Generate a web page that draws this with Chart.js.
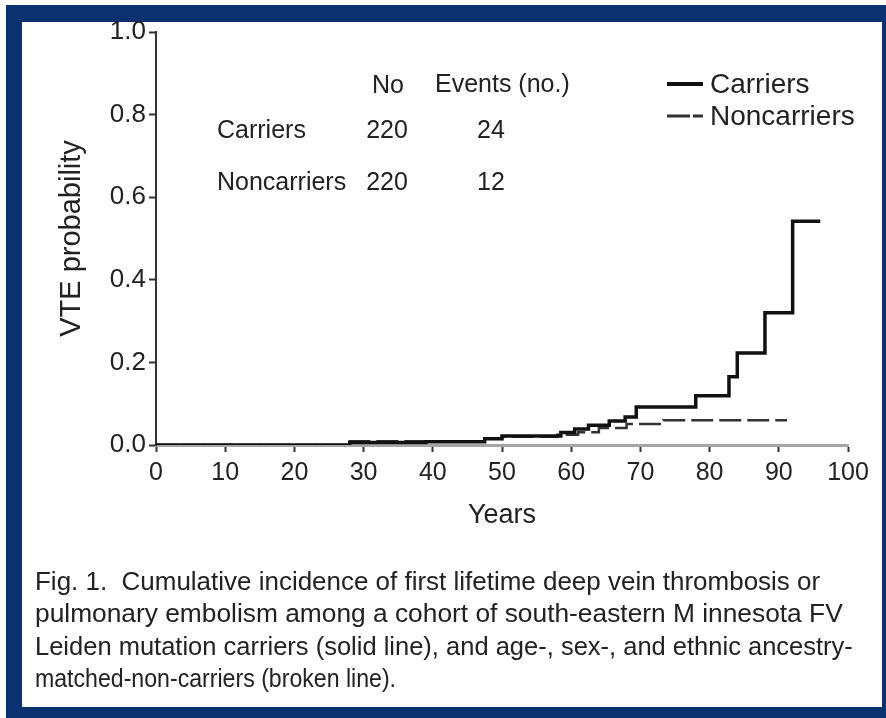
<!DOCTYPE html>
<html>
<head>
<meta charset="utf-8">
<script src="https://cdn.jsdelivr.net/npm/chart.js@4.4.1/dist/chart.umd.min.js"></script>
<style>
  html, body { margin: 0; padding: 0; background: #ffffff; width: 886px; height: 718px; overflow: hidden; }
  #frame { position: absolute; left: 6px; top: 5px; width: 880px; height: 713px; background: #0b3170; }
  #panel { position: absolute; left: 22px; top: 22px; width: 860px; height: 685px; background: #ffffff; }
  #chart { position: absolute; left: 0; top: 0; }
  .cap { position: absolute; left: 35px; font-family: "Liberation Sans", Arial, sans-serif; font-size: 26px;
         line-height: 32px; color: #222; white-space: nowrap; transform-origin: 0 0; }
</style>
</head>
<body>
<div id="frame"></div>
<div id="panel"></div>
<canvas id="chart" width="886" height="718"></canvas>
<div class="cap" id="cap0" style="top:565px">Fig. 1.&nbsp; Cumulative incidence of first lifetime deep vein thrombosis or</div>
<div class="cap" id="cap1" style="top:597px">pulmonary embolism among a cohort of south-eastern M innesota FV</div>
<div class="cap" id="cap2" style="top:630px">Leiden mutation carriers (solid line), and age-, sex-, and ethnic ancestry-</div>
<div class="cap" id="cap3" style="top:662px">matched-non-carriers (broken line).</div>
<script>
// Kaplan-Meier style cumulative incidence: each point is the age at which the curve steps to a new level
const carrierYears = [0, 28, 39, 47.5, 50, 58.5, 60.5, 62.5, 65.5, 67.8, 69.4, 78, 82.8, 84, 88, 92, 96];
const carrierProb  = [0, 0.006, 0.008, 0.015, 0.022, 0.03, 0.039, 0.048, 0.058, 0.068, 0.092, 0.119, 0.165, 0.223, 0.32, 0.542, 0.542];
const noncarrierYears = [0, 28, 47.5, 50, 58, 61, 64, 68, 73.3, 91.2];
const noncarrierProb  = [0, 0.009, 0.015, 0.02, 0.025, 0.031, 0.041, 0.051, 0.06, 0.06];

// Cohort summary table
const groupNames = ['Carriers', 'Noncarriers'];
const groupCounts = [220, 220];
const groupEvents = [24, 12];

const xTicks = [0, 10, 20, 30, 40, 50, 60, 70, 80, 90, 100];
const yTicks = [0, 0.2, 0.4, 0.6, 0.8, 1.0];

const FONT = '"Liberation Sans", Arial, sans-serif';
const TEXT = '#222222';

const toPoints = (xs, ys) => xs.map((x, i) => ({ x: x, y: ys[i] }));

const solidStyle = { color: '#111111', width: 3.5, dash: [] };
const dashStyle = { color: '#333333', width: 2.5, dash: [22, 6] };

// Table and legend drawn on top of the plot
const annotations = {
  id: 'annotations',
  afterDraw(chart) {
    const ctx = chart.ctx;
    ctx.save();
    ctx.fillStyle = TEXT;
    ctx.textBaseline = 'middle';
    ctx.font = '25px ' + FONT;
    ctx.textAlign = 'left';
    ctx.fillText('No', 372, 86);
    ctx.fillText('Events (no.)', 435, 85);
    const rowY = [131, 183];
    groupNames.forEach((name, i) => {
      ctx.textAlign = 'left';
      ctx.fillText(name, 217, rowY[i]);
      ctx.textAlign = 'center';
      ctx.fillText(String(groupCounts[i]), 387, rowY[i]);
      ctx.fillText(String(groupEvents[i]), 491, rowY[i]);
    });

    // legend
    const styles = [{ color: '#111111', width: 4, dash: [] }, { color: '#333333', width: 3, dash: [23, 3] }];
    const legY = [84, 116];
    chart.data.datasets.forEach((ds, i) => {
      const s = styles[i];
      ctx.beginPath();
      ctx.setLineDash(s.dash);
      ctx.lineWidth = s.width;
      ctx.strokeStyle = s.color;
      ctx.moveTo(667, legY[i]);
      ctx.lineTo(703, legY[i]);
      ctx.stroke();
      ctx.setLineDash([]);
      ctx.font = '28px ' + FONT;
      ctx.textAlign = 'left';
      ctx.fillStyle = TEXT;
      ctx.fillText(ds.label, 710, legY[i] + 1);
    });
    ctx.restore();
  }
};

new Chart(document.getElementById('chart'), {
  type: 'line',
  data: {
    datasets: [
      {
        label: 'Carriers',
        data: toPoints(carrierYears, carrierProb),
        stepped: 'before',
        borderColor: solidStyle.color,
        borderWidth: solidStyle.width,
        borderDash: solidStyle.dash,
        pointRadius: 0,
        fill: false,
        order: 0
      },
      {
        label: 'Noncarriers',
        data: toPoints(noncarrierYears, noncarrierProb),
        stepped: 'before',
        borderColor: dashStyle.color,
        borderWidth: dashStyle.width,
        borderDash: dashStyle.dash,
        pointRadius: 0,
        fill: false,
        order: 1
      }
    ]
  },
  options: {
    responsive: false,
    devicePixelRatio: 1,
    animation: false,
    layout: { padding: { left: 50, top: 32, right: 38, bottom: 178 } },
    plugins: { legend: { display: false }, tooltip: { enabled: false } },
    scales: {
      x: {
        type: 'linear',
        min: 0,
        max: 100,
        afterFit: s => { s.height = 95; },
        afterBuildTicks: s => { s.ticks = xTicks.map(v => ({ value: v })); },
        grid: { drawOnChartArea: false, drawTicks: true, tickLength: 7, tickColor: '#333', tickWidth: 2 },
        border: { display: true, color: '#a6a6a6', width: 3 },
        ticks: { color: TEXT, font: { family: FONT, size: 25 }, padding: 6, maxRotation: 0, autoSkip: false },
        title: { display: true, text: 'Years', color: TEXT, font: { family: FONT, size: 27 }, padding: { top: 0, bottom: 8 } }
      },
      y: {
        type: 'linear',
        min: 0,
        max: 1,
        afterFit: s => { s.width = 106; },
        afterBuildTicks: s => { s.ticks = yTicks.map(v => ({ value: v })); },
        grid: { drawOnChartArea: false, drawTicks: true, tickLength: 7, tickColor: '#333', tickWidth: 2 },
        border: { display: true, color: '#333333', width: 2 },
        ticks: { color: TEXT, font: { family: FONT, size: 26 }, padding: 3, callback: v => Number(v).toFixed(1) },
        title: { display: true, text: 'VTE probability', color: TEXT, font: { family: FONT, size: 29 }, padding: { top: 5, bottom: 0 } }
      }
    }
  },
  plugins: [annotations]
});

// fit each caption line to its printed width
const capEnds = [820, 843, 853, 396];
capEnds.forEach((end, i) => {
  const el = document.getElementById('cap' + i);
  const w = el.scrollWidth;
  el.style.transform = 'scaleX(' + ((end - 35) / w) + ')';
});
</script>
</body>
</html>
